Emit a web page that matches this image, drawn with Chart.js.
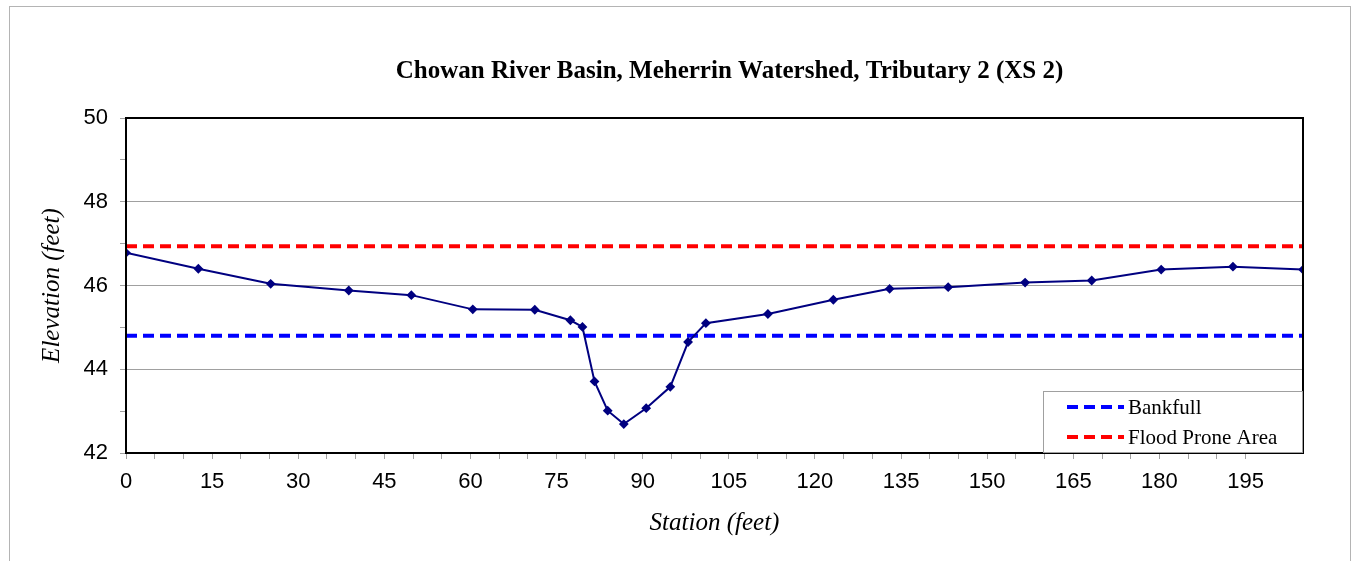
<!DOCTYPE html>
<html>
<head>
<meta charset="utf-8">
<script src="https://cdn.jsdelivr.net/npm/chart.js@4.4.1/dist/chart.umd.min.js"></script>
<style>
  body { margin: 0; background: #fff; }
  #frame { position: absolute; left: 9px; top: 6px; width: 1340px; height: 600px; border: 1px solid #b4b4b4; }
  #wrap { position: absolute; left: 0; top: 0; width: 1359px; height: 561px; }
</style>
</head>
<body>
<div id="frame"></div>
<div id="wrap"><canvas id="grafico"></canvas></div>
<script>
// dados da secao transversal
var estacao = [0, 12.6, 25.2, 38.8, 49.7, 60.4, 71.2, 77.4, 79.5, 81.6, 83.9, 86.7, 90.6, 94.8, 97.9, 101.0, 111.8, 123.2, 133.0, 143.2, 156.6, 168.2, 180.3, 192.8, 205];
var elevacao = [46.78, 46.40, 46.04, 45.88, 45.77, 45.43, 45.42, 45.17, 45.01, 43.71, 43.01, 42.69, 43.07, 43.58, 44.65, 45.10, 45.32, 45.66, 45.92, 45.96, 46.07, 46.12, 46.38, 46.45, 46.38];
var bankfull = 44.80;
var floodProne = 46.94;
var xMin = 0, xMax = 205;
var titulo = 'Chowan River Basin, Meherrin Watershed, Tributary 2 (XS 2)';

var pontos = estacao.map(function (x, i) { return { x: x, y: elevacao[i] }; });

// titulo um pouco deslocado para a direita, como no original
var ajusteTitulo = {
  id: 'ajusteTitulo',
  afterLayout: function (chart) {
    if (chart.titleBlock) {
      chart.titleBlock.left += 15;
      chart.titleBlock.right += 15;
    }
  }
};

// borda preta da area do grafico
var bordaPlot = {
  id: 'bordaPlot',
  afterDatasetsDraw: function (chart) {
    var a = chart.chartArea, ctx = chart.ctx;
    ctx.save();
    ctx.strokeStyle = '#000';
    ctx.lineWidth = 2;
    ctx.strokeRect(a.left, a.top, a.right - a.left, a.bottom - a.top);
    ctx.restore();
  }
};

// legenda dentro do grafico, canto inferior direito
var legendaCaixa = {
  id: 'legendaCaixa',
  afterDraw: function (chart) {
    var a = chart.chartArea, ctx = chart.ctx;
    var w = 260, h = 62;
    var x0 = a.right - w, y0 = a.bottom - h;
    ctx.save();
    ctx.fillStyle = '#fff';
    ctx.fillRect(x0, y0, w, h);
    ctx.strokeStyle = '#a0a0a0';
    ctx.lineWidth = 1;
    ctx.strokeRect(x0 + 0.5, y0 + 0.5, w - 1, h - 1);
    var itens = chart.data.datasets.slice(1);
    itens.forEach(function (ds, i) {
      var yy = y0 + 16 + i * 30;
      ctx.beginPath();
      ctx.setLineDash(ds.borderDash);
      ctx.lineWidth = ds.borderWidth;
      ctx.strokeStyle = ds.borderColor;
      ctx.moveTo(x0 + 24, yy);
      ctx.lineTo(x0 + 81, yy);
      ctx.stroke();
      ctx.setLineDash([]);
      ctx.fillStyle = '#000';
      ctx.font = '21px "Liberation Serif", serif';
      ctx.textBaseline = 'middle';
      ctx.fillText(ds.label, x0 + 85, yy + 1);
    });
    ctx.restore();
  }
};

var ctx = document.getElementById('grafico').getContext('2d');
var chart = new Chart(ctx, {
  type: 'scatter',
  data: {
    datasets: [
      {
        label: 'Elevation',
        data: pontos,
        showLine: true,
        borderColor: '#000080',
        backgroundColor: '#000080',
        borderWidth: 2,
        pointStyle: 'rectRot',
        pointRadius: 3.5,
        pointHoverRadius: 3.5,
        order: 1
      },
      {
        label: 'Bankfull',
        data: [{ x: xMin, y: bankfull }, { x: xMax, y: bankfull }],
        showLine: true,
        borderColor: '#0000ff',
        borderWidth: 4,
        borderDash: [11, 6],
        pointRadius: 0,
        order: 2
      },
      {
        label: 'Flood Prone Area',
        data: [{ x: xMin, y: floodProne }, { x: xMax, y: floodProne }],
        showLine: true,
        borderColor: '#ff0000',
        borderWidth: 4,
        borderDash: [11, 6],
        pointRadius: 0,
        order: 2
      }
    ]
  },
  options: {
    responsive: true,
    maintainAspectRatio: false,
    animation: false,
    layout: {
      padding: { left: 30, right: 56, top: 0, bottom: 0 }
    },
    plugins: {
      legend: { display: false },
      tooltip: { enabled: false },
      title: {
        display: true,
        text: titulo,
        fullSize: false,
        color: '#000',
        font: { family: '"Liberation Serif", serif', size: 25, weight: 'bold' },
        padding: { top: 57, bottom: 31 }
      }
    },
    scales: {
      x: {
        type: 'linear',
        min: xMin,
        max: xMax,
        afterBuildTicks: function (scale) {
          var t = [];
          for (var v = xMin; v <= 195; v += 5) t.push({ value: v });
          scale.ticks = t;
        },
        afterFit: function (scale) { scale.height = 108; },
        grid: { drawOnChartArea: false, tickLength: 6, tickColor: '#a0a0a0' },
        border: { color: '#000', width: 2 },
        ticks: {
          color: '#000',
          padding: 10,
          maxRotation: 0,
          autoSkip: false,
          font: { family: '"Liberation Sans", Arial, sans-serif', size: 22 },
          callback: function (v) { return v % 15 === 0 ? v : ''; }
        },
        title: {
          display: true,
          text: 'Station (feet)',
          color: '#000',
          font: { family: '"Liberation Serif", serif', size: 25, style: 'italic' },
          padding: { top: 0, bottom: 23 }
        }
      },
      y: {
        min: 42,
        max: 50,
        ticks: {
          stepSize: 1,
          color: '#000',
          padding: 12,
          font: { family: '"Liberation Sans", Arial, sans-serif', size: 22 },
          callback: function (v) { return v % 2 === 0 ? v : ''; }
        },
        afterFit: function (scale) { scale.width = 96; },
        grid: {
          tickLength: 6,
          tickColor: '#a0a0a0',
          color: function (c) { return (c.tick && c.tick.value % 2 === 0) ? '#a0a0a0' : 'rgba(0,0,0,0)'; }
        },
        border: { color: '#000', width: 2 },
        title: {
          display: true,
          text: 'Elevation (feet)',
          color: '#000',
          font: { family: '"Liberation Serif", serif', size: 25, style: 'italic' },
          padding: { top: 7, bottom: 0 }
        }
      }
    }
  },
  plugins: [ajusteTitulo, bordaPlot, legendaCaixa]
});
</script>
</body>
</html>
